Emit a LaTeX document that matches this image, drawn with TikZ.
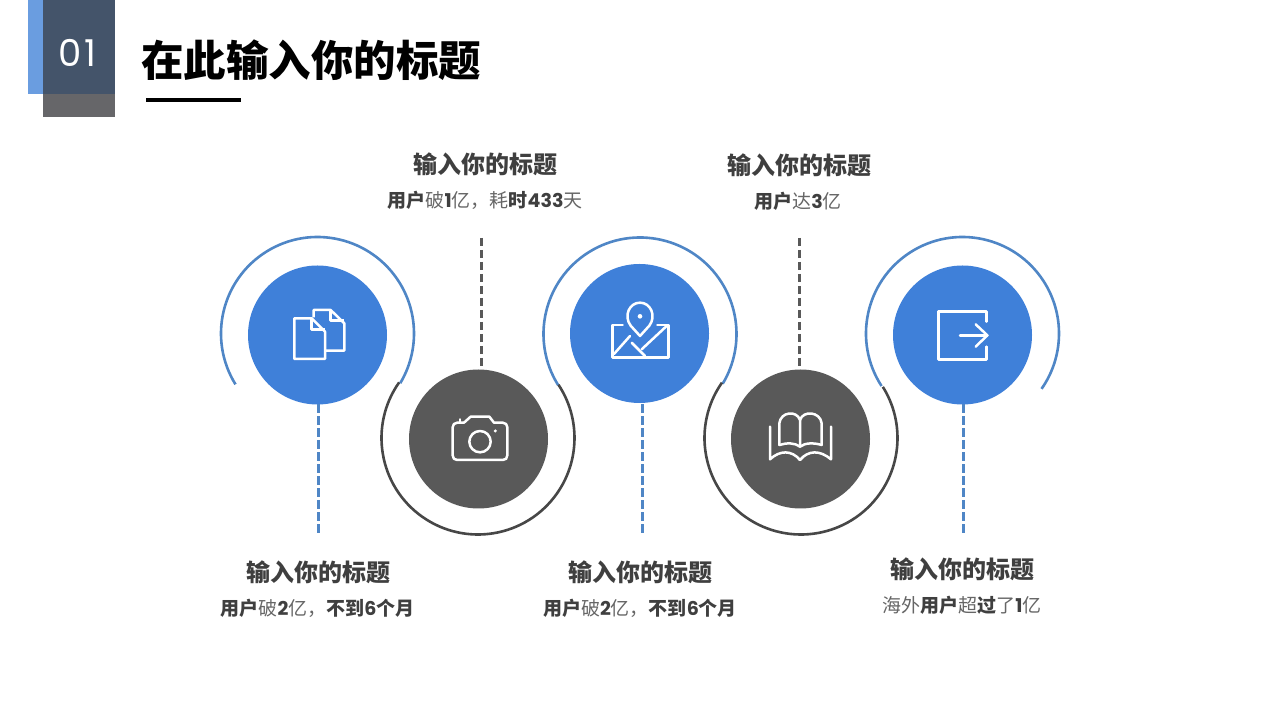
\documentclass[tikz,border=0pt]{standalone}
\usepackage{fontspec}
\setmainfont{Noto Sans CJK SC}
\newfontfamily\pop{Poppins}
\definecolor{cblue}{HTML}{3F80D9}
\definecolor{rblue}{HTML}{4F86C6}
\definecolor{cgray}{HTML}{595959}
\definecolor{rgray}{HTML}{474747}
\definecolor{hblue}{HTML}{6A9DE0}
\definecolor{hdark}{HTML}{44546A}
\definecolor{hgray}{HTML}{666669}
\definecolor{tdark}{HTML}{3F3F3F}
\definecolor{tlight}{HTML}{666666}
\newcommand{\bh}[1]{{\bfseries\color{tdark}#1}}
\newcommand{\nm}[1]{{\pop\bfseries\color{tdark}#1}}
\tikzset{
  disc/.style={circle,minimum size=139pt,inner sep=0pt,fill=#1},
  ringb/.style={draw=rblue,line width=2.6pt},
  ringg/.style={draw=rgray,line width=2.6pt},
  dashb/.style={draw=rblue,line width=3pt,dash pattern=on 8.5pt off 3.5pt},
  dashg/.style={draw=cgray,line width=3pt,dash pattern=on 8.5pt off 3.5pt},
  icon/.style={draw=white,line width=2.5pt,line join=round,line cap=round},
  head/.style={inner sep=0pt,text=tdark,font=\fontsize{24}{28}\selectfont\bfseries},
  sub/.style={inner sep=0pt,text=tlight,font=\fontsize{19}{22}\selectfont},
  zoomA/.style={shift={(210pt,490pt)},x=0.33333pt,y=-0.33333pt},
  zoomB/.style={shift={(540pt,490pt)},x=0.33333pt,y=-0.33333pt},
  zoomC/.style={shift={(860pt,490pt)},x=0.33333pt,y=-0.33333pt},
}
\begin{document}
\begin{tikzpicture}[x=1pt,y=1pt]
\useasboundingbox (0,0) rectangle (1280,720);
\fill[white] (0,0) rectangle (1280,720);
% header
\fill[hblue] (28,720) rectangle (43,626);
\fill[hdark] (43,720) rectangle (115,626);
\fill[hgray] (43,626) rectangle (115,603);
\fill[black] (146,622) rectangle (241,618);
\node[inner sep=0pt,text=white,font=\pop\fontsize{37}{40}\selectfont] (num) at (77.5,667) {0\kern3pt 1};
\node[inner sep=0pt,text=black,font=\fontsize{42.5}{48}\selectfont\bfseries] (title) at (311,660) {在此输入你的标题};
% rings
\coordinate (r1) at (317.5,386.5);
\coordinate (r2) at (478,282);
\coordinate (r3) at (640,386);
\coordinate (r4) at (801,282);
\coordinate (r5) at (962.5,386.5);
\draw[ringb] (r1) ++(211.8:96.5pt) arc[start angle=211.8,end angle=-31,radius=96.5pt];
\draw[ringb] (r3) ++(212:96.5pt) arc[start angle=212,end angle=-31,radius=96.5pt];
\draw[ringb] (r5) ++(213:96.5pt) arc[start angle=213,end angle=-35,radius=96.5pt];
\draw[ringg] (r2) ++(144.8:96.5pt) arc[start angle=144.8,end angle=393.5,radius=96.5pt];
\draw[ringg] (r4) ++(145:96.5pt) arc[start angle=145,end angle=392,radius=96.5pt];
% discs
\node[disc=cblue] (b1) at (317.5,385) {};
\node[disc=cgray] (g1) at (478.5,281) {};
\node[disc=cblue] (b2) at (639.5,386.5) {};
\node[disc=cgray] (g2) at (800.5,281) {};
\node[disc=cblue] (b3) at (962.5,385) {};
% dashed connectors
\coordinate (d1a) at (318.5,315.5); \coordinate (d1b) at (318.5,186);
\coordinate (d2a) at (481.5,482); \coordinate (d2b) at (481.5,353);
\coordinate (d3a) at (642.5,315.5); \coordinate (d3b) at (642.5,186);
\coordinate (d4a) at (799.5,482); \coordinate (d4b) at (799.5,353);
\coordinate (d5a) at (963,315.5); \coordinate (d5b) at (963,186);
\draw[dashb] (d1a) -- (d1b);
\draw[dashg] (d2a) -- (d2b);
\draw[dashb] (d3a) -- (d3b);
\draw[dashg] (d4a) -- (d4b);
\draw[dashb] (d5a) -- (d5b);
% icon: documents
\begin{scope}[zoomA]
\draw[icon,line cap=butt] (253,265) -- (305,265) -- (345,305) -- (345,387) -- (253,387) -- cycle;
\draw[icon,line cap=butt] (305,265) -- (305,298) -- (345,298);
\draw[icon,line cap=butt] (311,262) -- (311,240) -- (362,240) -- (403,280) -- (403,362) -- (345,362);
\draw[icon,line cap=butt] (362,240) -- (362,272) -- (403,272);
\end{scope}
% icon: camera
\begin{scope}[zoomA]
\draw[icon] (742,578) -- (762,578) -- (782,560) -- (838,560) -- (852,578) -- (878,578)
  .. controls (887,578) and (892,584) .. (892,592) -- (892,676)
  .. controls (892,685) and (887,690) .. (878,690) -- (742,690)
  .. controls (733,690) and (728,685) .. (728,676) -- (728,592)
  .. controls (728,584) and (733,578) .. (742,578) -- cycle;
\draw[icon] (750,578) -- (750,568);
\draw[icon] (810,635) circle[radius=32];
\fill[white] (856,603) circle[radius=5];
\end{scope}
% icon: map
\begin{scope}[zoomB]
\draw[icon] (300,318) -- (272,287) .. controls (250,258) and (268,218) .. (300,218)
  .. controls (332,218) and (350,258) .. (328,287) -- cycle;
\fill[white] (300,259) circle[radius=7];
\draw[icon] (248,285) -- (218,285) -- (218,382) -- (385,382) -- (385,285) -- (352,285);
\draw[icon] (222,372) -- (270,318);
\draw[icon] (275,338) -- (315,378);
\draw[icon] (305,358) -- (380,288);
\end{scope}
% icon: book
\begin{scope}[zoomB]
\draw[icon] (690,590) -- (690,688) .. controls (720,660) and (755,660) .. (780,690)
  .. controls (805,660) and (840,660) .. (873,688) -- (873,590);
\draw[icon] (718,645) -- (718,580) .. controls (722,545) and (770,540) .. (780,570) -- (780,645);
\draw[icon] (845,645) -- (845,580) .. controls (841,545) and (790,540) .. (780,570);
\draw[icon] (718,645) .. controls (740,638) and (765,638) .. (780,650)
  .. controls (795,638) and (822,638) .. (845,645);
\end{scope}
% icon: exit
\begin{scope}[zoomC]
\draw[icon] (380,275) -- (380,245) -- (235,245) -- (235,388) -- (380,388) -- (380,350);
\draw[icon] (300,316) -- (382,316);
\draw[icon] (347,283) -- (382,316) -- (347,350);
\end{scope}
% texts
\node[head] (h1) at (318,147.5) {输入你的标题};
\node[head] (h2) at (485.5,555.5) {输入你的标题};
\node[head] (h3) at (640,147.5) {输入你的标题};
\node[head] (h4) at (799,554.5) {输入你的标题};
\node[head] (h5) at (962,150.5) {输入你的标题};
\node[sub] (s1) at (317.5,112) {\bh{用户}破\nm{2}亿，\bh{不到}\nm{6}\bh{个月}};
\node[sub] (s2) at (485,520) {\bh{用户}破\nm{1}亿，耗\bh{时}\nm{433}天};
\node[sub] (s3) at (640,112) {\bh{用户}破\nm{2}亿，\bh{不到}\nm{6}\bh{个月}};
\node[sub] (s4) at (798,519) {\bh{用户}达\nm{3}亿};
\node[sub] (s5) at (962,115) {海外\bh{用户}超\bh{过}了\nm{1}亿};
\end{tikzpicture}
\end{document}
